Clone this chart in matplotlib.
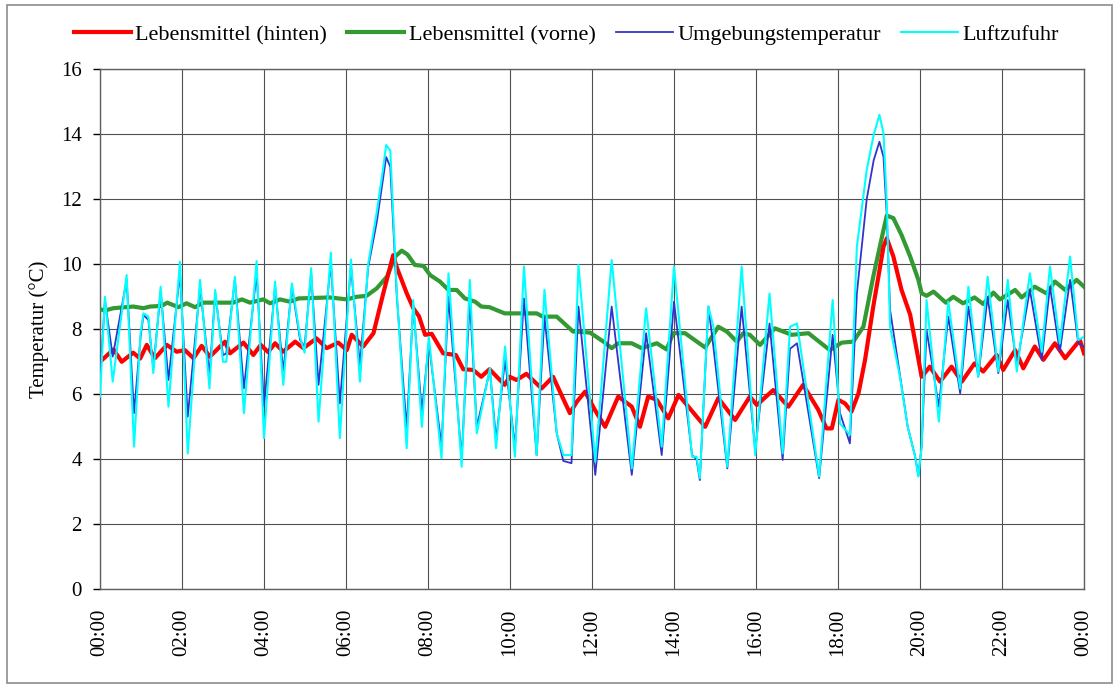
import matplotlib
matplotlib.use("Agg")
import matplotlib.pyplot as plt
from matplotlib.patches import Rectangle

# Lebensmittel (hinten) - time in hours, temperature in °C
t_hinten = [0.00, 0.33, 0.53, 0.81, 0.98, 1.14, 1.34, 1.63, 1.87, 2.07, 2.28, 2.48,
            2.68, 3.05, 3.17, 3.50, 3.74, 3.92, 4.10, 4.27, 4.47, 4.76, 4.96, 5.28,
            5.53, 5.81, 6.02, 6.14, 6.42, 6.67, 6.91, 7.15, 7.24, 7.48, 7.64, 7.78,
            7.93, 8.09, 8.37, 8.68, 8.86, 9.10, 9.30, 9.50, 9.87, 9.99, 10.16, 10.40,
            10.77, 11.05, 11.46, 11.63, 11.83, 12.07, 12.32, 12.64, 12.97, 13.17, 13.37,
            13.58, 13.86, 14.11, 14.35, 14.76, 15.08, 15.49, 15.85, 16.02, 16.42, 16.79,
            17.15, 17.52, 17.72, 17.85, 18.01, 18.17, 18.33, 18.50, 18.66, 18.86, 19.11,
            19.19, 19.35, 19.55, 19.76, 19.92, 20.04, 20.24, 20.49, 20.77, 21.02, 21.33,
            21.54, 21.87, 22.03, 22.32, 22.52, 22.80, 23.01, 23.29, 23.54, 23.90, 24.00]
v_hinten = [7.00, 7.38, 7.00, 7.28, 7.10, 7.52, 7.11, 7.52, 7.31, 7.36, 7.11, 7.49,
            7.16, 7.62, 7.26, 7.59, 7.21, 7.52, 7.30, 7.57, 7.31, 7.62, 7.42, 7.72,
            7.42, 7.59, 7.36, 7.83, 7.47, 7.88, 9.11, 10.28, 9.90, 9.11, 8.65, 8.40,
            7.83, 7.86, 7.26, 7.21, 6.77, 6.75, 6.54, 6.77, 6.29, 6.54, 6.44, 6.63,
            6.18, 6.54, 5.42, 5.77, 6.08, 5.52, 5.00, 5.93, 5.62, 5.00, 5.93,
            5.83, 5.26, 5.98, 5.62, 5.00, 5.88, 5.21, 5.93, 5.67, 6.13, 5.62,
            6.29, 5.52, 4.95, 4.95, 5.83, 5.72, 5.47, 6.03, 7.06, 8.70, 10.54,
            10.80, 10.24, 9.21, 8.45, 7.36, 6.54, 6.85, 6.39, 6.85, 6.39, 6.95,
            6.70, 7.21, 6.75, 7.36, 6.80, 7.47, 7.06, 7.57, 7.11, 7.67, 7.26]

# Lebensmittel (vorne)
t_vorne = [0.00, 0.12, 0.33, 0.81, 1.06, 1.22, 1.50, 1.64, 1.91, 2.11, 2.32, 2.52,
           3.25, 3.46, 3.66, 3.98, 4.15, 4.39, 4.63, 4.84, 5.61, 6.02, 6.26, 6.50,
           6.75, 7.00, 7.20, 7.36, 7.50, 7.68, 7.89, 8.05, 8.29, 8.50, 8.70, 8.90,
           9.15, 9.30, 9.50, 9.87, 10.65, 10.80, 11.14, 11.54, 11.95, 12.28, 12.48,
           12.64, 12.97, 13.21, 13.58, 13.82, 13.98, 14.27, 14.76, 15.08, 15.29, 15.53,
           15.69, 15.85, 16.10, 16.46, 16.87, 17.28, 17.80, 18.09, 18.37, 18.62, 18.86,
           19.11, 19.19, 19.35, 19.55, 19.76, 19.96, 20.04, 20.16, 20.33, 20.63, 20.81,
           21.05, 21.33, 21.54, 21.79, 21.95, 22.32, 22.48, 22.80, 23.09, 23.29, 23.54,
           23.82, 24.00]
v_vorne = [8.62, 8.58, 8.65, 8.70, 8.65, 8.70, 8.72, 8.82, 8.68, 8.80, 8.68, 8.82,
           8.82, 8.92, 8.82, 8.92, 8.80, 8.92, 8.85, 8.95, 8.98, 8.92, 9.00, 9.03,
           9.26, 9.62, 10.24, 10.42, 10.30, 9.98, 9.95, 9.67, 9.47, 9.21, 9.21, 8.95,
           8.85, 8.70, 8.68, 8.49, 8.49, 8.39, 8.39, 7.93, 7.90, 7.62, 7.42,
           7.57, 7.57, 7.42, 7.57, 7.38, 7.88, 7.88, 7.44, 8.08, 7.93, 7.62,
           7.88, 7.83, 7.52, 8.03, 7.83, 7.88, 7.36, 7.59, 7.62, 8.08, 9.62,
           11.06, 11.50, 11.42, 10.90, 10.24, 9.52, 9.11, 9.03, 9.16, 8.82, 9.00,
           8.80, 8.98, 8.78, 9.13, 8.92, 9.21, 8.98, 9.31, 9.10, 9.47, 9.21,
           9.52, 9.31]

# Umgebungstemperatur and Luftzufuhr share the same sampling times
t_luft = [0.00, 0.12, 0.31, 0.65, 0.83, 0.99, 1.06, 1.18, 1.30, 1.48, 1.67, 1.95,
          2.14, 2.44, 2.67, 2.81, 3.00, 3.08, 3.29, 3.51, 3.82, 4.00, 4.27, 4.47,
          4.68, 4.88, 4.99, 5.15, 5.33, 5.63, 5.85, 6.12, 6.34, 6.54, 6.75, 6.90,
          6.98, 7.08, 7.24, 7.48, 7.64, 7.85, 8.02, 8.33, 8.50, 8.82, 9.02, 9.19,
          9.51, 9.66, 9.88, 10.12, 10.34, 10.65, 10.84, 11.14, 11.30, 11.50, 11.67,
          12.08, 12.48, 12.97, 13.32, 13.70, 14.00, 14.44, 14.55, 14.63, 14.84, 14.96,
          15.30, 15.65, 15.98, 16.33, 16.65, 16.83, 17.00, 17.54, 17.87, 18.05, 18.29,
          18.46, 18.70, 18.87, 19.01, 19.11, 19.19, 19.27, 19.51, 19.70, 19.88, 19.96,
          20.04, 20.16, 20.46, 20.69, 20.98, 21.18, 21.42, 21.65, 21.91, 22.14, 22.36,
          22.68, 22.97, 23.17, 23.41, 23.66, 23.86, 24.00]
v_umgebung = [6.44, 8.90, 7.16, 9.52, 5.42, 7.77, 8.44, 8.29, 6.80, 9.16, 6.44, 9.72,
              5.31, 9.31, 6.60, 9.10, 7.20, 7.26, 9.52, 6.18, 9.72, 5.62, 9.31, 6.70,
              9.31, 7.67, 7.47, 9.72, 6.29, 10.03, 5.72, 9.93, 6.90, 9.90, 11.30, 12.60,
              13.30, 13.00, 9.00, 4.95, 8.70, 5.47, 7.57, 4.40, 9.00, 4.03, 8.90, 5.00,
              6.75, 4.60, 7.06, 4.39, 8.95, 4.13, 8.39, 4.80, 3.95, 3.88, 8.70,
              3.52, 8.70, 3.52, 7.88, 4.13, 8.85, 4.13, 4.00, 3.36, 8.70, 7.47,
              3.72, 8.70, 4.29, 8.18, 3.98, 7.40, 7.57, 3.42, 7.83, 5.42, 4.49,
              9.10, 12.00, 13.20, 13.77, 13.30, 11.50, 8.60, 6.60, 5.00, 4.10, 3.50,
              4.40, 7.98, 5.62, 8.39, 6.03, 8.70, 6.54, 9.00, 6.65, 8.90, 6.90,
              9.21, 7.06, 9.31, 7.31, 9.52, 7.57, 7.47]
v_luftzufuhr = [5.93, 9.00, 6.39, 9.67, 4.39, 7.88, 8.49, 8.39, 6.65, 9.31, 5.62, 10.08,
                4.18, 9.52, 6.18, 9.21, 7.00, 7.00, 9.62, 5.42, 10.10, 4.65, 9.47, 6.29,
                9.41, 7.77, 7.28, 9.88, 5.16, 10.36, 4.65, 10.15, 6.39, 10.00, 11.60, 12.90,
                13.67, 13.50, 9.10, 4.34, 8.90, 5.00, 7.77, 4.03, 9.72, 3.77, 9.52, 4.80,
                6.80, 4.34, 7.47, 4.08, 9.93, 4.13, 9.21, 4.80, 4.13, 4.13, 9.98,
                3.93, 10.13, 3.72, 8.65, 4.39, 9.93, 4.08, 4.08, 3.42, 8.70, 8.08,
                3.77, 9.93, 4.13, 9.10, 4.18, 8.08, 8.18, 3.47, 8.90, 5.10, 4.75,
                10.54, 12.90, 13.98, 14.60, 14.03, 11.88, 8.08, 6.54, 5.00, 4.08, 3.47,
                4.39, 8.90, 5.16, 8.85, 6.18, 9.31, 6.54, 9.62, 6.70, 9.52, 6.70,
                9.72, 7.31, 9.93, 7.57, 10.24, 7.67, 7.77]

x_ticks = list(range(0, 25, 2))
x_tick_labels = ["00:00", "02:00", "04:00", "06:00", "08:00", "10:00", "12:00",
                 "14:00", "16:00", "18:00", "20:00", "22:00", "00:00"]
y_ticks = list(range(0, 17, 2))

plt.rcParams["font.family"] = ["Liberation Serif", "DejaVu Serif"]
FS = 15

W, H = 1117, 686
fig = plt.figure(figsize=(W / 100, H / 100), dpi=100)
fig.patch.set_facecolor("white")

# chart area frame
fig.add_artist(Rectangle((7 / W, 3 / H), (1112 - 7) / W, (681 - 3) / H,
                         transform=fig.transFigure, fill=False,
                         edgecolor="#8c8c8c", linewidth=1.2))

ax = fig.add_axes([100 / W, 1 - 589.3 / H, 984 / W, 520 / H])

ax.plot(t_hinten, v_hinten, color="#ff0000", lw=3.0, label="Lebensmittel (hinten)", zorder=4)
ax.plot(t_vorne, v_vorne, color="#339933", lw=3.0, label="Lebensmittel (vorne)", zorder=3)
ax.plot(t_luft, v_umgebung, color="#3333cc", lw=1.3, label="Umgebungstemperatur", zorder=5)
ax.plot(t_luft, v_luftzufuhr, color="#00ffff", lw=1.5, label="Luftzufuhr", zorder=6)

ax.set_xlim(0, 24)
ax.set_ylim(0, 16)
ax.set_xticks(x_ticks)
ax.set_xticklabels(x_tick_labels, rotation=90, fontsize=FS)
ax.set_yticks(y_ticks)
ax.set_yticklabels([str(v) for v in y_ticks], fontsize=FS)
ax.tick_params(axis="x", length=0, pad=14)
ax.tick_params(axis="y", length=5, width=1, color="black", pad=8)
ax.grid(True, color="#505050", linewidth=0.8)
ax.set_axisbelow(True)
for s in ax.spines.values():
    s.set_color("#606060")
    s.set_linewidth(1.0)

ax.set_ylabel("Temperatur (°C)", fontsize=FS)
ax.yaxis.set_label_coords(-0.052, 0.5)

fig.legend(loc="center", bbox_to_anchor=(0.507, 1 - 35 / H), ncol=4, frameon=False,
           fontsize=16, handlelength=2.57, handletextpad=0.2, columnspacing=0.9)

fig.savefig("out.png", dpi=100)
